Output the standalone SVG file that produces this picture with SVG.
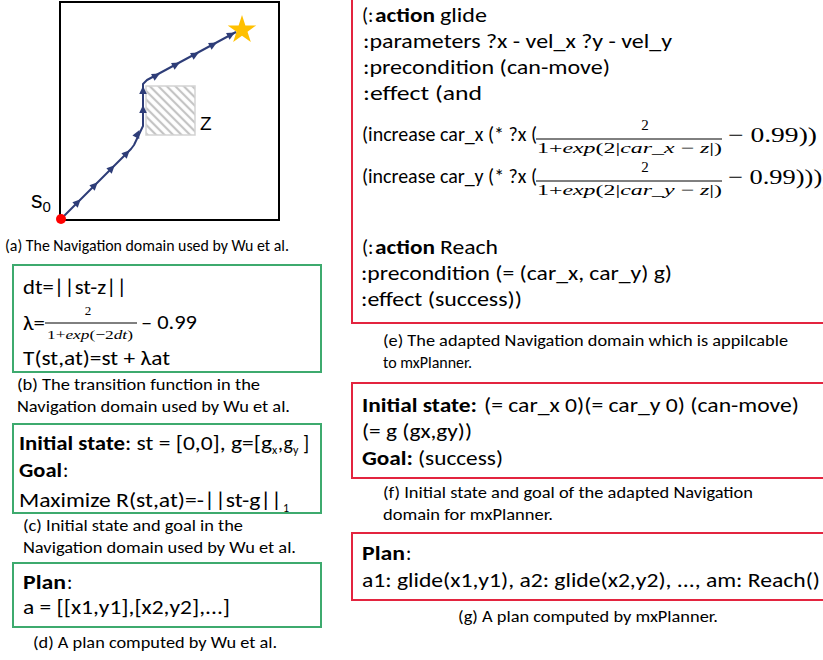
<svg xmlns="http://www.w3.org/2000/svg" xmlns:xlink="http://www.w3.org/1999/xlink" width="823" height="660" viewBox="0 0 823 660">
<style>
  .t { font-family: Carlito, Lato, "Liberation Sans", sans-serif; font-size: 20px; fill: #000; }
  .b { font-weight: bold; }
  .cap { font-family: Carlito, Lato, "Liberation Sans", sans-serif; font-size: 16px; fill: #000; }
  .m { font-family: "Liberation Serif", "DejaVu Serif", serif; fill: #000; }
  .i { font-style: italic; }
  .sub { font-family: Carlito, Lato, "Liberation Sans", sans-serif; font-size: 12px; }
  .green { fill: none; stroke: #3DAA6E; stroke-width: 2; }
  .red { fill: none; stroke: #E3243F; stroke-width: 2; }
  .bar { stroke: #000; stroke-width: 1; }
  .traj { fill: none; stroke: #2E3D78; stroke-width: 2; stroke-linejoin: round; }
  .ah { fill: #2E3D78; }
  .ar { font-family: "Liberation Sans", Arial, sans-serif; fill: #000; }
</style>
<defs>
  <pattern id="hatch" patternUnits="userSpaceOnUse" width="6" height="6" patternTransform="rotate(45)">
    <rect width="6" height="6" fill="#fff"/>
    <line x1="0" y1="3" x2="6" y2="3" stroke="#C4C4C4" stroke-width="2.2"/>
  </pattern>
  <polygon id="ah" points="1,0 -7,-3.8 -7,3.8"/>
</defs>
<rect width="823" height="660" fill="#fff"/>

<!-- (a) navigation domain -->
<g id="panel-a">
  <rect x="60" y="2" width="219" height="218" fill="none" stroke="#000" stroke-width="2"/>
  <rect x="146" y="86" width="49" height="49" fill="url(#hatch)" stroke="#D3D3D3" stroke-width="1.5"/>
  <text class="ar" x="200" y="130" font-size="19">Z</text>
  <text class="ar" x="31" y="208" font-size="23">s<tspan font-size="15" dy="4">0</tspan></text>
  <polygon points="242,15 245.4,25.4 256.3,25.4 247.5,31.8 250.8,42.1 242,35.7 233.2,42.1 236.5,31.8 227.7,25.4 238.6,25.4" fill="#FFC000"/>
  <text class="cap" x="5" y="251" textLength="284" lengthAdjust="spacingAndGlyphs">(a) The Navigation domain used by Wu et al.</text>
</g>

<g id="connectors">
  <polyline class="traj" points="61,219 131,149 134,145 143,126 143,84 147,80 236,32"/>
  <g class="ah">
    <use xlink:href="#ah" transform="translate(80,200) rotate(-45)"/>
    <use xlink:href="#ah" transform="translate(97,183) rotate(-45)"/>
    <use xlink:href="#ah" transform="translate(114,166) rotate(-45)"/>
    <use xlink:href="#ah" transform="translate(129,151) rotate(-45)"/>
    <use xlink:href="#ah" transform="translate(139,131) rotate(-63)"/>
    <use xlink:href="#ah" transform="translate(143,106) rotate(-90)"/>
    <use xlink:href="#ah" transform="translate(143,87) rotate(-90)"/>
    <use xlink:href="#ah" transform="translate(159,74) rotate(-28)"/>
    <use xlink:href="#ah" transform="translate(179,63) rotate(-28)"/>
    <use xlink:href="#ah" transform="translate(198,53) rotate(-28)"/>
    <use xlink:href="#ah" transform="translate(216,43) rotate(-28)"/>
    <use xlink:href="#ah" transform="translate(234,33) rotate(-28)"/>
  </g>
  <circle cx="61" cy="219" r="5" fill="#FF0000"/>
</g>

<!-- (b) transition function -->
<g id="panel-b">
  <rect class="green" x="13" y="265" width="308" height="107"/>
  <text class="t" x="23" y="294" textLength="104" lengthAdjust="spacingAndGlyphs">dt=||st-z||</text>
  <text class="t" x="23" y="330" textLength="22" lengthAdjust="spacingAndGlyphs">λ=</text>
  <line class="bar" x1="45" y1="323" x2="137" y2="323"/>
  <text class="m" x="88" y="315" font-size="13" text-anchor="middle">2</text>
  <text class="m" x="90" y="339" font-size="13" text-anchor="middle" textLength="86" lengthAdjust="spacingAndGlyphs">1+<tspan class="i">exp</tspan>(−2<tspan class="i">dt</tspan>)</text>
  <text class="t" x="141" y="329" textLength="56" lengthAdjust="spacingAndGlyphs">– 0.99</text>
  <text class="t" x="23" y="365" textLength="147" lengthAdjust="spacingAndGlyphs">T(st,at)=st + λat</text>
  <text class="cap" x="17" y="390" textLength="243" lengthAdjust="spacingAndGlyphs">(b) The transition function in the</text>
  <text class="cap" x="17" y="412" textLength="273" lengthAdjust="spacingAndGlyphs">Navigation domain used by Wu et al.</text>
</g>

<!-- (c) initial state and goal -->
<g id="panel-c">
  <rect class="green" x="13" y="424" width="308" height="89"/>
  <text class="t b" x="19" y="450" textLength="106" lengthAdjust="spacingAndGlyphs">Initial state</text>
  <text class="t" x="125" y="450" textLength="147" lengthAdjust="spacingAndGlyphs">: st = [0,0], g=[g</text>
  <text class="sub" x="272" y="454">x</text>
  <text class="t" x="278" y="450">,</text>
  <text class="t" x="283.5" y="450">g</text>
  <text class="sub" x="293" y="454">y</text>
  <text class="t" x="303" y="450">]</text>
  <text class="t b" x="19" y="477" textLength="43" lengthAdjust="spacingAndGlyphs">Goal</text>
  <text class="t" x="63" y="477">:</text>
  <text class="t" x="19" y="507" textLength="263" lengthAdjust="spacingAndGlyphs">Maximize R(st,at)=-||st-g||</text>
  <text class="sub" x="283" y="512">1</text>
  <text class="cap" x="23" y="531" textLength="220" lengthAdjust="spacingAndGlyphs">(c) Initial state and goal in the</text>
  <text class="cap" x="23" y="553" textLength="273" lengthAdjust="spacingAndGlyphs">Navigation domain used by Wu et al.</text>
</g>

<!-- (d) plan -->
<g id="panel-d">
  <rect class="green" x="13" y="563" width="308" height="64"/>
  <text class="t b" x="23" y="589" textLength="43" lengthAdjust="spacingAndGlyphs">Plan</text>
  <text class="t" x="67" y="589">:</text>
  <text class="t" x="23" y="614" textLength="207" lengthAdjust="spacingAndGlyphs">a = [[x1,y1],[x2,y2],...]</text>
  <text class="cap" x="33" y="648" textLength="244" lengthAdjust="spacingAndGlyphs">(d) A plan computed by Wu et al.</text>
</g>

<!-- (e) adapted domain -->
<g id="panel-e">
  <rect class="red" x="352" y="-10" width="490" height="333"/>
  <text class="t" x="362" y="22">(:</text>
  <text class="t b" x="375" y="22" textLength="60" lengthAdjust="spacingAndGlyphs">action</text>
  <text class="t" x="440" y="22" textLength="47" lengthAdjust="spacingAndGlyphs">glide</text>
  <text class="t" x="363" y="48" textLength="309" lengthAdjust="spacingAndGlyphs">:parameters ?x - vel_x ?y - vel_y</text>
  <text class="t" x="363" y="74" textLength="247" lengthAdjust="spacingAndGlyphs">:precondition (can-move)</text>
  <text class="t" x="363" y="100" textLength="119" lengthAdjust="spacingAndGlyphs">:effect  (and</text>

  <text class="t" x="362" y="141" textLength="175" lengthAdjust="spacingAndGlyphs">(increase car_x (* ?x (</text>
  <text class="m" x="645" y="130" font-size="15" text-anchor="middle">2</text>
  <line class="bar" x1="536" y1="139" x2="722" y2="139"/>
  <text class="m" x="537" y="153" font-size="15" textLength="185" lengthAdjust="spacingAndGlyphs">1+<tspan class="i">exp</tspan>(2|<tspan class="i">car_x</tspan> − <tspan class="i">z</tspan>|)</text>
  <text class="m" x="728" y="142" font-size="21" textLength="89" lengthAdjust="spacingAndGlyphs">− 0.99))</text>

  <text class="t" x="362" y="183" textLength="175" lengthAdjust="spacingAndGlyphs">(increase car_y (* ?x (</text>
  <text class="m" x="645" y="172" font-size="15" text-anchor="middle">2</text>
  <line class="bar" x1="536" y1="181" x2="722" y2="181"/>
  <text class="m" x="537" y="195" font-size="15" textLength="185" lengthAdjust="spacingAndGlyphs">1+<tspan class="i">exp</tspan>(2|<tspan class="i">car_y</tspan> − <tspan class="i">z</tspan>|)</text>
  <text class="m" x="728" y="184" font-size="21" textLength="103" lengthAdjust="spacingAndGlyphs">− 0.99))))</text>

  <text class="t" x="362" y="254">(:</text>
  <text class="t b" x="375" y="254" textLength="60" lengthAdjust="spacingAndGlyphs">action</text>
  <text class="t" x="440" y="254" textLength="58" lengthAdjust="spacingAndGlyphs">Reach</text>
  <text class="t" x="361" y="280" textLength="311" lengthAdjust="spacingAndGlyphs">:precondition (= (car_x, car_y) g)</text>
  <text class="t" x="361" y="306" textLength="161" lengthAdjust="spacingAndGlyphs">:effect (success))</text>
  <text class="cap" x="383" y="346" textLength="405" lengthAdjust="spacingAndGlyphs">(e) The adapted Navigation domain which is appilcable</text>
  <text class="cap" x="383" y="368" textLength="89" lengthAdjust="spacingAndGlyphs">to mxPlanner.</text>
</g>

<!-- (f) initial state and goal for mxPlanner -->
<g id="panel-f">
  <rect class="red" x="352" y="383" width="490" height="95"/>
  <text class="t b" x="362" y="412" textLength="115" lengthAdjust="spacingAndGlyphs">Initial state:</text>
  <text class="t" x="484" y="412" textLength="315" lengthAdjust="spacingAndGlyphs">(= car_x 0)(= car_y 0) (can-move)</text>
  <text class="t" x="362" y="438" textLength="110" lengthAdjust="spacingAndGlyphs">(= g (gx,gy))</text>
  <text class="t b" x="362" y="465" textLength="51" lengthAdjust="spacingAndGlyphs">Goal:</text>
  <text class="t" x="418" y="465" textLength="85" lengthAdjust="spacingAndGlyphs">(success)</text>
  <text class="cap" x="383" y="498" textLength="370" lengthAdjust="spacingAndGlyphs">(f) Initial state and goal of the adapted Navigation</text>
  <text class="cap" x="383" y="520" textLength="170" lengthAdjust="spacingAndGlyphs">domain for mxPlanner.</text>
</g>

<!-- (g) plan by mxPlanner -->
<g id="panel-g">
  <rect class="red" x="352" y="533" width="490" height="67"/>
  <text class="t b" x="362" y="560" textLength="43" lengthAdjust="spacingAndGlyphs">Plan</text>
  <text class="t" x="406" y="560">:</text>
  <text class="t" x="362" y="587" textLength="458" lengthAdjust="spacingAndGlyphs">a1: glide(x1,y1), a2: glide(x2,y2), ..., am: Reach()</text>
  <text class="cap" x="458" y="622" textLength="260" lengthAdjust="spacingAndGlyphs">(g) A plan computed by mxPlanner.</text>
</g>
</svg>
